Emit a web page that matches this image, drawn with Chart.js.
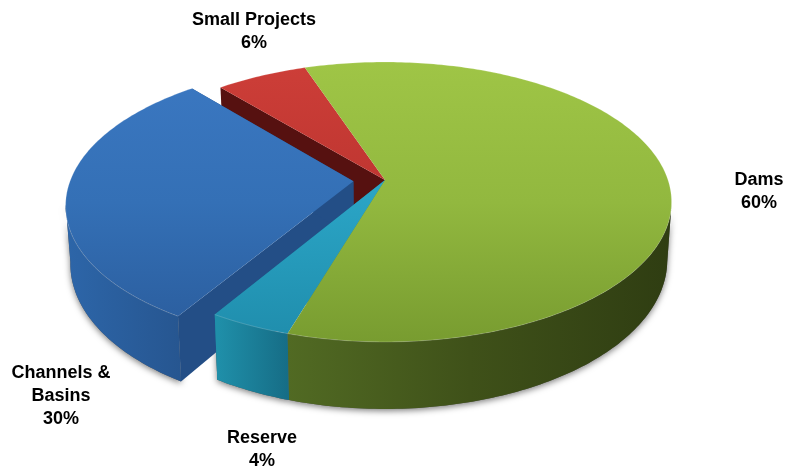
<!DOCTYPE html>
<html>
<head>
<meta charset="utf-8">
<title>Budget pie</title>
<script src="https://cdn.jsdelivr.net/npm/chart.js@4"></script>
<style>
  html, body { margin: 0; padding: 0; background: #fff; }
  #wrap { width: 785px; height: 472px; }
</style>
</head>
<body>
<div id="wrap"><canvas id="pie"></canvas></div>
<script>
// Slices run clockwise, starting at the green/red seam
const categories = ['Dams', 'Reserve', 'Channels & Basins', 'Small Projects'];
const shares = [60, 4, 30, 6];
const explode = [0, 0, 25, 0];
const labelLines = [['Dams', '60%'], ['Reserve', '4%'], ['Channels &', 'Basins', '30%'], ['Small Projects', '6%']];
const baseColors = ['#8bb13c', '#2396b6', '#3168ae', '#b5302c'];

// Flat pie -> tilted disc with a bit of perspective (the apex sits above the ellipse centre)
const view = { cx: 385, cy: 180, sx: 283, sy: 136.5, persp: 0.157, depth: 56.5, floorShrink: 0.985 };
const labelSpots = [[759, 180], [262, 438], [61, 373], [254, 20]];
const LINE_GAP = 23;

// Top face and wall shading per slice
const shades = [
  { top: ['#9fc546', '#92b83f', '#789c30'], wall: [[288, '#516a23'], [470, '#3f5119'], [672, '#2f3d12']], cut: '#4c6120' },
  { top: ['#33b4d6', '#2aa3c4', '#1f8dac'], wall: [[218, '#1f8fa9'], [288, '#166d86']], cut: '#1a7a94' },
  { top: ['#3b78c2', '#3470b6', '#2a5c9c'], wall: [[64, '#2d66a9'], [187, '#26558f']], cut: '#234e86' },
  { top: ['#cd3e38', '#bd3530', '#a02926'], wall: [[218, '#701715'], [305, '#701715']], cut: '#561110' }
];
// Back to front
const paintOrder = [3, 2, 1, 0];

function project(u, v) {
  const w = 1 + view.persp * v;
  return { x: view.cx + view.sx * u / w, y: view.cy - view.sy * v / w, drop: view.depth / w, front: v < -view.persp };
}

function slicePoints(arc) {
  const p = arc.getProps(['startAngle', 'endAngle', 'outerRadius']);
  const mid = (p.startAngle + p.endAngle) / 2;
  const off = (arc.options.offset || 0) / p.outerRadius;
  const ou = Math.cos(mid) * off;
  const ov = -Math.sin(mid) * off;
  const rim = [];
  const steps = Math.max(8, Math.ceil((p.endAngle - p.startAngle) * 60));
  for (let i = 0; i <= steps; i++) {
    const a = p.startAngle + (p.endAngle - p.startAngle) * i / steps;
    rim.push(project(Math.cos(a) + ou, -Math.sin(a) + ov));
  }
  return { apex: project(ou, ov), rim: rim };
}

function tracePoly(ctx, pts) {
  ctx.beginPath();
  pts.forEach((q, i) => (i ? ctx.lineTo(q.x, q.y) : ctx.moveTo(q.x, q.y)));
  ctx.closePath();
}

function dropped(q) {
  return { x: view.cx + (q.x - view.cx) * view.floorShrink, y: q.y + q.drop, drop: 0 };
}

function wallOutline(rim) {
  const front = rim.filter((q) => q.front);
  return front.concat(front.slice().reverse().map(dropped));
}

function paintGroundShadow(ctx, arc) {
  const outline = wallOutline(slicePoints(arc).rim);
  if (!outline.length) return;
  ctx.save();
  ctx.shadowColor = 'rgba(0,0,0,0.5)';
  ctx.shadowBlur = 6;
  ctx.shadowOffsetY = 2;
  ctx.fillStyle = '#555';
  tracePoly(ctx, outline);
  ctx.fill();
  ctx.restore();
}

function paintSlice(ctx, arc, shade, openStart, openEnd) {
  const { apex, rim } = slicePoints(arc);
  const cutEdges = [];
  if (openStart) cutEdges.push(rim[0]);
  if (openEnd) cutEdges.push(rim[rim.length - 1]);

  // cut faces, only where the neighbour has been pulled away
  ctx.fillStyle = shade.cut;
  cutEdges.forEach((edge) => {
    tracePoly(ctx, [apex, edge, dropped(edge), dropped(apex)]);
    ctx.fill();
  });

  // outer wall
  const outline = wallOutline(rim);
  if (outline.length) {
    const x0 = shade.wall[0][0];
    const span = shade.wall[shade.wall.length - 1][0] - x0;
    const wallGrad = ctx.createLinearGradient(x0, 0, x0 + span, 0);
    shade.wall.forEach((s) => wallGrad.addColorStop((s[0] - x0) / span, s[1]));
    ctx.fillStyle = wallGrad;
    tracePoly(ctx, outline);
    ctx.fill();
  }

  // top face
  const topGrad = ctx.createLinearGradient(0, 62, 0, 342);
  topGrad.addColorStop(0, shade.top[0]);
  topGrad.addColorStop(0.5, shade.top[1]);
  topGrad.addColorStop(1, shade.top[2]);
  ctx.fillStyle = topGrad;
  tracePoly(ctx, [apex].concat(rim));
  ctx.fill();

  // thin light rim
  ctx.strokeStyle = 'rgba(255,255,255,0.18)';
  ctx.lineWidth = 1;
  ctx.beginPath();
  rim.forEach((q, i) => (i ? ctx.lineTo(q.x, q.y) : ctx.moveTo(q.x, q.y)));
  ctx.stroke();
}

const tiltedPie = {
  id: 'tiltedPie',
  beforeDatasetsDraw(chart) {
    const ctx = chart.ctx;
    const arcs = chart.getDatasetMeta(0).data;
    const n = arcs.length;
    ctx.save();
    arcs.forEach((arc) => paintGroundShadow(ctx, arc));
    paintOrder.forEach((i) => {
      const openStart = explode[i] !== explode[(i + n - 1) % n];
      const openEnd = explode[i] !== explode[(i + 1) % n];
      paintSlice(ctx, arcs[i], shades[i], openStart, openEnd);
    });
    ctx.fillStyle = '#000';
    ctx.font = 'bold 18px "Liberation Sans", Arial, sans-serif';
    ctx.textAlign = 'center';
    ctx.textBaseline = 'middle';
    labelLines.forEach((lines, i) => {
      lines.forEach((line, k) => {
        ctx.fillText(line, labelSpots[i][0], labelSpots[i][1] + k * LINE_GAP);
      });
    });
    ctx.restore();
    return false; // the flat arcs are replaced by the tilted ones above
  }
};

new Chart(document.getElementById('pie'), {
  type: 'pie',
  data: {
    labels: categories,
    datasets: [{ data: shares, backgroundColor: baseColors, offset: explode, borderWidth: 0 }]
  },
  options: {
    responsive: true,
    maintainAspectRatio: false,
    animation: false,
    rotation: -19,
    plugins: { legend: { display: false }, tooltip: { enabled: false } }
  },
  plugins: [tiltedPie]
});
</script>
</body>
</html>
